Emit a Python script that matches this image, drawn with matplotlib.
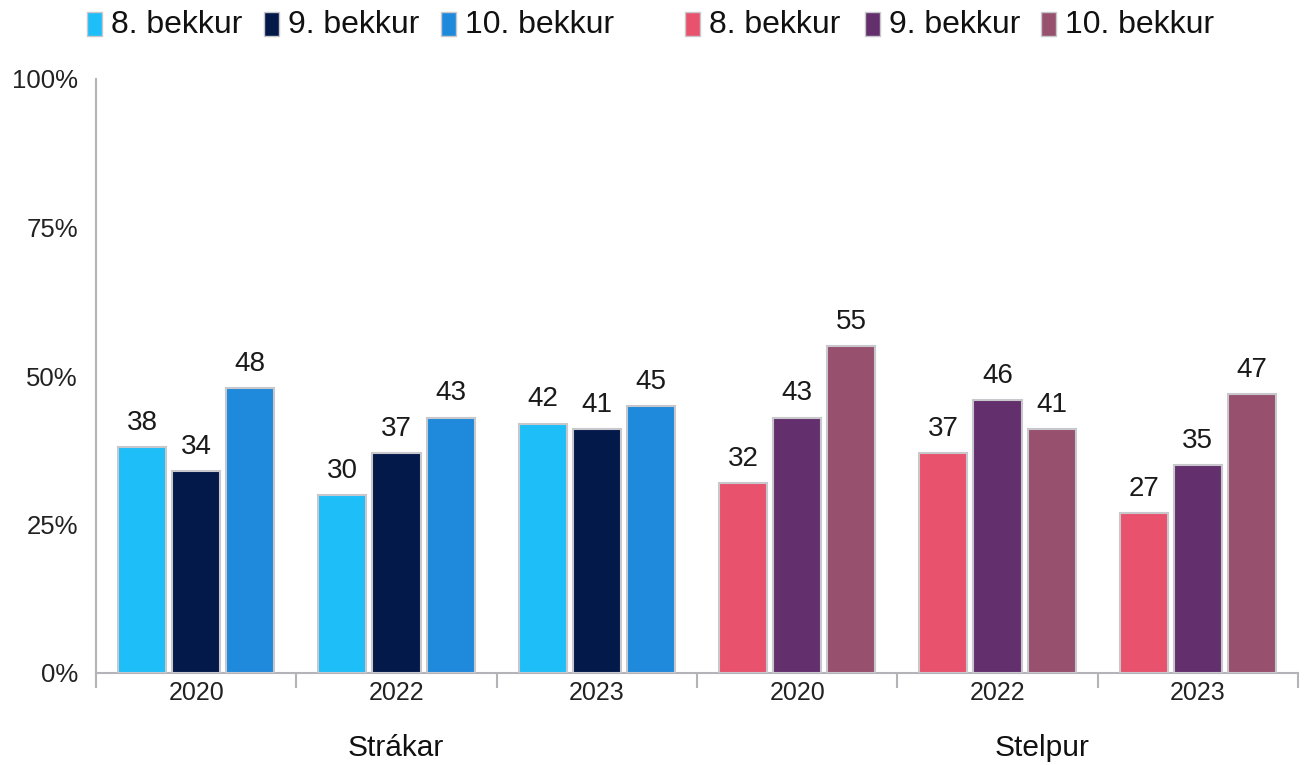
import matplotlib
matplotlib.use("Agg")
import matplotlib.pyplot as plt
from matplotlib.patches import Rectangle
import numpy as np

plt.rcParams['font.family'] = ['Liberation Sans', 'DejaVu Sans']

years = ["2020", "2022", "2023"]
groups = ["Strákar", "Stelpur"]
series_labels = ["8. bekkur", "9. bekkur", "10. bekkur"]
strakar = [[38, 30, 42], [34, 37, 41], [48, 43, 45]]   # per series, per year
stelpur = [[32, 37, 27], [43, 46, 35], [55, 41, 47]]
colors_strakar = ["#1EBEF8", "#03194A", "#1F8ADB"]
colors_stelpur = ["#E8526D", "#63306D", "#97506D"]
yticks = [0, 25, 50, 75, 100]

W, H = 1305, 765
fig = plt.figure(figsize=(W / 100, H / 100), dpi=100)
ax = fig.add_axes([96 / W, 1 - 673 / H, (1298 - 96) / W, (673 - 79) / H])

grey = "#b4b4b8"
bw = 0.24
step = 0.27
for gi, (data, cols) in enumerate([(strakar, colors_strakar), (stelpur, colors_stelpur)]):
    for si in range(3):
        for yi in range(3):
            x = gi * 3 + yi + 0.5 + (si - 1) * step
            v = data[si][yi]
            ax.bar(x, v, width=bw, color=cols[si], edgecolor="#c8c8cc", linewidth=1.5, zorder=3)
            ax.annotate(str(v), (x, v), xytext=(0, 8), textcoords="offset points",
                        ha="center", va="bottom", fontsize=20, color="#1a1a1a")

ax.set_xlim(0, 6)
ax.set_ylim(0, 100)
ax.set_yticks(yticks)
ax.set_yticklabels([f"{t}%" for t in yticks], fontsize=18.5, color="#222222")
ax.tick_params(axis="y", length=0, pad=13)

ax.set_xticks(np.arange(0, 7))
ax.set_xticklabels([])
ax.tick_params(axis="x", which="major", length=11, width=1.5, color=grey, direction="out")
ax.set_xticks(np.arange(6) + 0.5, minor=True)
ax.set_xticklabels(years * 2, minor=True, fontsize=18, color="#222222")
ax.tick_params(axis="x", which="minor", length=0, pad=6)

for s in ["top", "right"]:
    ax.spines[s].set_visible(False)
for s in ["left", "bottom"]:
    ax.spines[s].set_color(grey)
    ax.spines[s].set_linewidth(1.5)

# group labels
fig.text(396 / W, 1 - 748 / H, groups[0], ha="center", va="center", fontsize=21.5, color="#111111")
fig.text(1042 / W, 1 - 748 / H, groups[1], ha="center", va="center", fontsize=21.5, color="#111111")

# legends
leg_x = [87, 264, 441, 685, 865, 1041]
leg_cols = colors_strakar + colors_stelpur
leg_labels = series_labels * 2
for x, c, lab in zip(leg_x, leg_cols, leg_labels):
    fig.add_artist(Rectangle((x / W, 1 - 36 / H), 15 / W, 24 / H, transform=fig.transFigure,
                             facecolor=c, edgecolor="#c8c8cc", linewidth=1))
    fig.text((x + 24) / W, 1 - 25 / H, lab, ha="left", va="center", fontsize=23, color="#111111")

fig.savefig("out.png", dpi=100)
